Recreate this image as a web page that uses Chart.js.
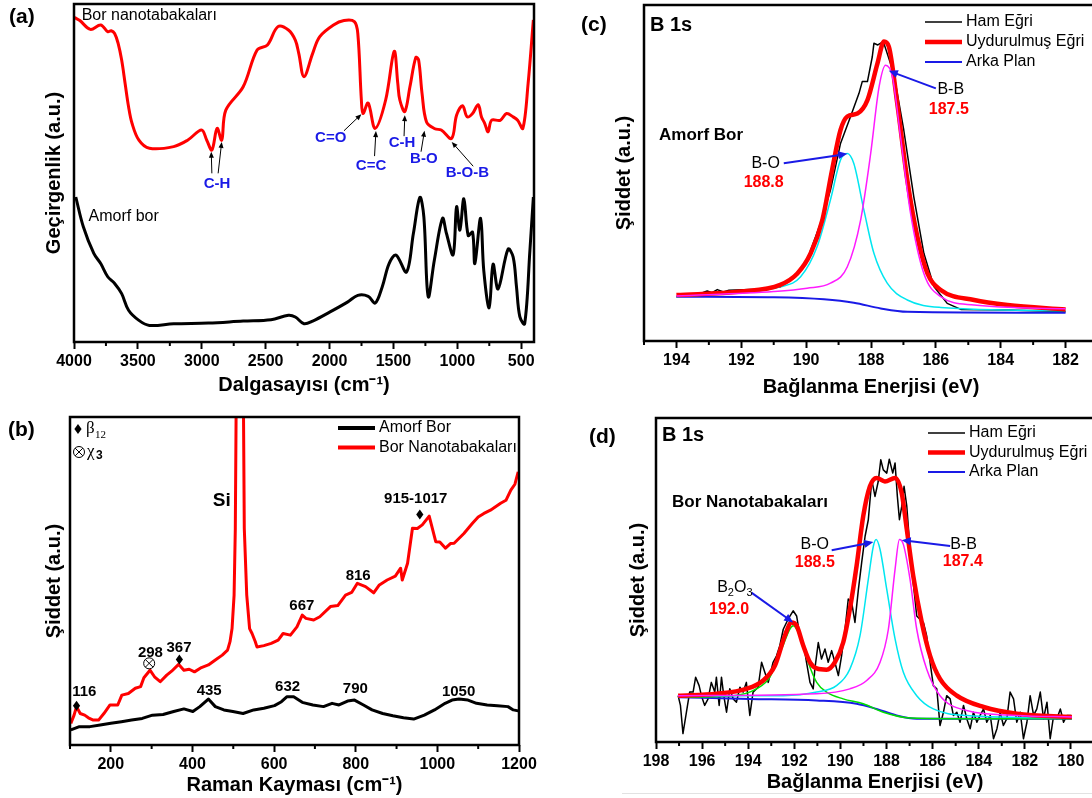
<!DOCTYPE html>
<html lang="tr">
<head>
<meta charset="UTF-8">
<title>Bor nanotabakaları – FTIR, Raman, XPS</title>
<script src="https://cdn.jsdelivr.net/npm/chart.js"></script>
<style>
  body { margin: 0; width: 1092px; height: 798px; overflow: hidden; background: #fff; position: relative; }
  canvas { position: absolute; }
  .tag { position: absolute; font: bold 21px "Liberation Sans", Arial, sans-serif; line-height: 21px; color: #000; }
</style>
</head>
<body>
<canvas id="cA" width="546" height="399" style="left:0;top:0"></canvas>
<canvas id="cB" width="546" height="399" style="left:0;top:399px"></canvas>
<canvas id="cC" width="560" height="399" style="left:546px;top:0"></canvas>
<canvas id="cD" width="560" height="399" style="left:546px;top:399px"></canvas>
<div class="tag" style="left:9px;top:5px">(a)</div>
<div class="tag" style="left:581px;top:13px">(c)</div>
<div class="tag" style="left:8px;top:418px">(b)</div>
<div class="tag" style="left:589px;top:425px">(d)</div>
<div style="position:absolute;left:622px;top:793px;width:470px;height:1px;background:#e2e2e2"></div>

<script>
// ---- (a) FTIR: [dalgasayısı, geçirgenlik a.u.] ----
const ftirNano = [[4000,96.0],[3986,95.8],[3954,95.1],[3872,92.5],[3791,93.8],[3736,91.8],[3709,92.1],[3682,91.3],[3655,88.4],[3627,83.4],[3600,76.5],[3573,69.6],[3546,64.7],[3492,59.7],[3410,57.3],[3220,57.8],[3111,59.7],[3002,62.7],[2961,59.7],[2921,56.8],[2880,63.2],[2844,59.7],[2812,68.6],[2676,75.5],[2567,86.4],[2486,87.9],[2404,93.3],[2322,92.3],[2268,89.3],[2241,85.4],[2200,78.5],[2132,85.4],[2078,90.3],[1969,93.8],[1887,95.1],[1806,94.8],[1779,91.3],[1751,71.6],[1738,67.6],[1698,70.7],[1643,63.2],[1561,71.6],[1494,86.0],[1466,76.5],[1450,71.6],[1411,68.2],[1371,75.5],[1325,84.2],[1303,83.4],[1276,73.5],[1241,65.1],[1176,63.1],[1126,62.7],[1045,60.2],[1006,67.1],[959,69.9],[923,66.6],[881,67.6],[837,70.2],[811,66.6],[786,64.7],[759,62.2],[732,65.6],[664,65.6],[615,67.6],[563,66.6],[528,65.6],[487,63.2],[446,76.5],[405,95.3]];
const ftirAmorf = [[3986,42.9],[3927,34.1],[3845,26.2],[3791,23.2],[3736,19.3],[3682,17.3],[3627,14.3],[3573,9.4],[3492,6.4],[3410,4.9],[3220,5.4],[2948,5.6],[2676,6.2],[2458,6.6],[2322,7.9],[2268,7.4],[2200,5.4],[2132,6.2],[1996,8.9],[1860,11.8],[1779,13.8],[1697,13.5],[1643,11.5],[1588,16.3],[1534,23.2],[1480,25.7],[1398,20.7],[1344,32.1],[1293,42.8],[1262,37.0],[1228,13.4],[1180,24.2],[1116,36.6],[1085,32.1],[1033,25.8],[1006,40.0],[980,33.1],[949,42.4],[915,31.5],[881,32.5],[863,23.2],[818,36.6],[793,21.1],[751,10.1],[720,23.0],[681,15.7],[603,27.5],[563,25.1],[537,16.3],[511,7.5],[473,5.4],[432,27.1],[405,42.9]];
const ftirTicks = [4000,3500,3000,2500,2000,1500,1000,500];
const ftirMinor = [3750,3250,2750,2250,1750,1250,750];
// [etiket, metin x, metin y, oklar [kuyruk x, kuyruk y, uç x, uç y]]
const ftirBands = [
  ['C-H', 2880, 46.9, [[2921,49.9,2926,56.3],[2872,49.9,2844,59.2]]],
  ['C=O', 1991, 60.4, [[1887,62.5,1751,67.4]]],
  ['C=C', 1675, 52.1, [[1648,55.0,1637,62.4]]],
  ['C-H', 1433, 58.9, [[1417,60.9,1411,67.1]]],
  ['B-O', 1262, 54.3, [[1284,56.3,1257,62.5]]],
  ['B-O-B', 922, 50.0, [[876,52.0,1044,59.2]]]
];

// ---- (b) Raman: [kayma, şiddet a.u.] ----
const ramanNano = [[102,6.6],[110,9.1],[116,11.7],[125,9.6],[136,9.1],[145,8.3],[157,7.6],[170,7.6],[183,9.6],[198,12.2],[217,12.2],[227,15.2],[243,15.7],[260,17.3],[273,17.8],[281,20.5],[296,22.8],[307,20.8],[321,19.3],[337,21.3],[349,22.5],[366,24.6],[379,22.8],[392,23.1],[405,22.3],[422,23.6],[439,24.4],[456,25.9],[473,27.4],[486,28.9],[492,31.5],[497,35.5],[502,45.7],[505,66.0],[508,120],[511,200],[521,200],[524,120],[527,66],[533,45.7],[540,35.5],[546,34.0],[554,31.5],[558,29.9],[575,30.3],[593,31.0],[610,32.0],[622,34.0],[640,33.5],[656,36.0],[669,39.6],[678,38.6],[697,38.1],[712,39.1],[738,42.2],[756,42.5],[775,45.7],[790,46.5],[804,49.3],[824,48.3],[844,46.4],[857,48.7],[877,50.3],[897,51.5],[910,53.9],[914,50.3],[927,55.4],[939,66.1],[951,66.0],[963,67.1],[980,69.8],[996,62.0],[1006,61.9],[1020,60.0],[1032,61.4],[1041,61.5],[1065,64.5],[1086,67.6],[1100,69.5],[1114,70.6],[1130,71.6],[1155,73.7],[1168,74.6],[1180,77.7],[1190,79.5],[1198,83.3]];
const ramanAmorf = [[102,4.6],[123,5.6],[149,5.6],[174,6.1],[200,6.6],[226,7.1],[251,7.6],[277,8.1],[302,9.1],[328,9.3],[354,10.2],[379,11.0],[401,10.2],[418,11.7],[439,14.0],[456,11.7],[477,10.7],[499,10.2],[524,9.6],[550,10.7],[575,11.2],[601,12.0],[618,13.2],[631,14.7],[648,14.7],[669,13.0],[695,12.2],[721,11.7],[742,12.7],[759,12.2],[780,13.4],[797,13.7],[819,12.2],[840,10.7],[866,9.6],[891,8.9],[917,8.3],[942,7.9],[968,9.1],[993,10.7],[1019,12.7],[1036,13.7],[1053,14.0],[1075,13.7],[1096,12.7],[1122,12.2],[1147,12.0],[1173,11.7],[1186,10.7],[1198,10.4]];
const ramanTicks = [200,400,600,800,1000,1200];
const ramanMinor = [100,300,500,700,900,1100];
const ramanPeaks = [['116',135,16.2],['298',297,28.2],['367',367,29.7],['435',441,16.4],['632',633,17.8],['667',668,42.4],['790',799,17.0],['816',806,51.5],['915-1017',947,74.9],['1050',1052,16.2]];
const ramanBeta = [[116,12.0],[368,26.1],[957,70.3]];
const ramanChi = [[294,24.9]];

// ---- (c) XPS amorf bor: [bağlanma enerjisi, şiddet a.u.] ----
const xpsAmorfRaw = [[194.0,13.2],[193.3,14.0],[193.05,14.9],[192.9,14.4],[192.74,15.3],[192.55,14.6],[192.38,15.1],[191.51,15.4],[190.8,16.1],[190.38,18.7],[189.97,24.1],[189.56,35.0],[189.25,44.9],[188.94,58.8],[188.63,66.8],[188.37,73.7],[188.27,77.2],[188.11,77.2],[187.96,84.6],[187.91,88.6],[187.79,88.1],[187.62,89.1],[187.3,79.7],[186.99,62.8],[186.68,42.9],[186.37,26.1],[186.06,16.2],[185.65,11.2],[185.23,9.4],[183.79,9.2],[182.0,8.7]];
const xpsAmorfFit = [[194.0,13.7],[192.02,14.7],[190.8,16.7],[190.27,20.1],[189.86,26.1],[189.5,36.0],[189.2,50.9],[188.94,62.8],[188.73,66.8],[188.42,67.7],[188.11,71.7],[187.8,82.6],[187.6,89.1],[187.45,87.6],[187.19,70.7],[186.88,47.9],[186.57,31.0],[186.26,20.1],[185.85,15.2],[184.82,12.2],[183.79,10.7],[182.0,9.4]];
const xpsAmorfBO = [[194.0,13.2],[192.02,14.4],[190.8,16.1],[190.17,19.1],[189.66,28.1],[189.25,42.0],[188.94,53.9],[188.73,55.8],[188.53,52.8],[188.22,39.0],[187.91,26.1],[187.5,17.2],[186.88,12.2],[185.85,10.0],[182.0,9.0]];
const xpsAmorfBB = [[194.0,13.4],[191.0,14.7],[189.97,15.7],[189.25,17.2],[188.73,22.1],[188.32,36.0],[188.01,55.8],[187.75,75.7],[187.55,82.1],[187.34,78.7],[187.09,60.8],[186.78,38.0],[186.37,20.1],[185.85,13.2],[184.82,10.7],[182.0,9.6]];
const xpsAmorfBg = [[194.0,13.2],[191.0,13.0],[189.45,12.4],[188.53,11.4],[187.7,9.7],[186.88,8.7],[182.0,8.4]];
const xpsAmorfTicks = [194,192,190,188,186,184,182];
const xpsAmorfMinor = [195,193,191,189,187,185,183,181];

// ---- (d) XPS bor nanotabakaları ----
const xpsNanoRaw = [[197.04,14.3],[196.94,11.3],[196.83,2.6],[196.68,9.2],[196.54,15.4],[196.39,15.4],[196.28,20.0],[196.13,17.4],[196.03,14.3],[195.89,11.3],[195.74,13.3],[195.6,18.4],[195.45,15.4],[195.38,20.0],[195.26,11.3],[195.16,20.0],[195.06,14.3],[194.94,9.2],[194.8,16.4],[194.65,13.3],[194.51,12.3],[194.36,16.9],[194.22,15.4],[194.08,18.4],[193.93,8.2],[193.79,15.4],[193.57,16.9],[193.42,24.6],[193.28,21.5],[193.13,18.4],[192.92,24.6],[192.77,26.6],[192.63,29.7],[192.48,34.8],[192.27,37.9],[192.05,40.5],[191.9,38.9],[191.76,32.8],[191.61,30.7],[191.47,24.6],[191.32,18.4],[191.18,16.4],[191.11,22.5],[190.96,30.7],[190.82,25.6],[190.67,28.7],[190.53,24.6],[190.38,28.2],[190.24,24.6],[190.09,20.5],[189.95,26.6],[189.8,34.8],[189.66,44.1],[189.51,43.0],[189.37,36.9],[189.22,47.1],[189.08,55.3],[188.93,63.5],[188.79,68.6],[188.64,80.9],[188.5,75.8],[188.36,80.4],[188.25,87.1],[188.14,84.0],[187.99,83.0],[187.88,87.3],[187.73,83.0],[187.63,86.1],[187.53,75.8],[187.44,68.6],[187.34,72.7],[187.24,78.9],[187.12,72.7],[186.98,59.4],[186.84,49.2],[186.69,38.9],[186.55,37.9],[186.4,36.9],[186.26,32.8],[186.11,24.6],[185.97,17.4],[185.82,16.4],[185.68,5.1],[185.53,9.2],[185.39,14.3],[185.24,13.3],[185.1,8.2],[184.95,9.2],[184.81,6.1],[184.66,11.3],[184.52,7.2],[184.37,4.1],[184.23,9.2],[184.08,6.1],[183.94,8.2],[183.79,10.2],[183.65,6.1],[183.5,8.2],[183.36,1.0],[183.21,4.1],[183.07,9.2],[182.93,5.1],[182.78,7.2],[182.64,15.4],[182.49,13.3],[182.35,6.1],[182.2,9.2],[182.06,1.0],[181.91,6.1],[181.77,14.3],[181.62,8.2],[181.48,10.2],[181.33,15.4],[181.19,7.2],[181.04,12.3],[180.9,1.0],[180.75,8.2],[180.61,7.2],[180.46,10.2],[180.32,6.1],[180.17,8.2],[180.0,8.2]];
const xpsNanoFit = [[197.04,14.3],[195.38,14.9],[194.08,16.4],[193.35,19.0],[192.84,23.6],[192.41,32.8],[192.12,36.9],[191.9,35.9],[191.61,29.7],[191.32,24.6],[191.03,22.7],[190.6,22.3],[190.24,24.6],[189.88,30.7],[189.59,41.0],[189.3,54.3],[189.01,69.7],[188.72,78.9],[188.43,81.5],[188.07,80.4],[187.63,81.5],[187.34,76.8],[187.12,65.6],[186.84,51.2],[186.47,36.9],[186.11,26.6],[185.68,19.5],[184.95,14.3],[183.79,10.8],[182.35,8.7],[179.96,7.7]];
const xpsNanoB2O3 = [[197.04,13.8],[194.65,14.3],[193.64,16.4],[193.06,20.0],[192.55,28.7],[192.05,35.9],[191.76,32.8],[191.4,24.6],[191.03,18.4],[190.6,15.4],[189.88,13.3],[189.01,11.8],[188.14,9.2],[186.98,7.4],[185.24,7.2],[179.96,7.2]];
const xpsNanoBO = [[197.04,14.3],[192.48,14.3],[191.03,15.4],[190.17,17.4],[189.59,22.5],[189.15,32.8],[188.79,50.2],[188.57,60.5],[188.45,62.5],[188.28,59.4],[187.99,47.1],[187.63,31.8],[187.27,21.5],[186.69,14.3],[185.97,10.2],[184.52,8.2],[179.96,7.4]];
const xpsNanoBB = [[197.04,14.3],[191.03,14.9],[189.59,16.4],[188.86,19.0],[188.28,24.6],[187.92,34.8],[187.63,53.3],[187.44,62.5],[187.27,61.0],[186.98,50.2],[186.69,34.8],[186.26,22.5],[185.68,14.3],[184.52,9.7],[182.35,8.2],[179.96,7.7]];
const xpsNanoBg = [[197.04,13.8],[193.93,13.3],[191.03,12.8],[189.3,11.8],[188.43,10.2],[187.56,8.2],[186.69,7.2],[179.96,7.2]];
const xpsNanoTicks = [198,196,194,192,190,188,186,184,182,180];
const xpsNanoMinor = [197,195,193,191,189,187,185,183,181,179];

const legendXps = [['Ham Eğri', '#000', 1.5], ['Uydurulmuş Eğri', '#ff0000', 4.5], ['Arka Plan', '#1a1ae6', 2]];
const legendRaman = [['Amorf Bor', '#000', 4], ['Bor Nanotabakaları', '#ff0000', 4]];

const FONT = '"Liberation Sans", Arial, sans-serif';
const SERIF = '"Liberation Serif", "Times New Roman", serif';
const BLUE = '#1a1ae6';

const line = (pts, color, w, smooth, order) => ({
  data: pts.map(([x, y]) => ({ x, y })),
  borderColor: color, borderWidth: w, pointRadius: 0, fill: false,
  tension: smooth ? 0.35 : 0, cubicInterpolationMode: smooth === 'm' ? 'monotone' : 'default',
  borderJoinStyle: 'round', order: order || 0
});

function txt(ctx, s, x, y, size, weight, color, align, family) {
  ctx.font = `${weight} ${size}px ${family || FONT}`;
  ctx.fillStyle = color; ctx.textAlign = align || 'center'; ctx.textBaseline = 'middle';
  ctx.fillText(s, x, y);
}

function arrow(ctx, x1, y1, x2, y2, color, lw, hl, hw) {
  const a = Math.atan2(y2 - y1, x2 - x1);
  ctx.strokeStyle = color; ctx.fillStyle = color; ctx.lineWidth = lw;
  ctx.beginPath(); ctx.moveTo(x1, y1);
  ctx.lineTo(x2 - Math.cos(a) * hl * 0.8, y2 - Math.sin(a) * hl * 0.8); ctx.stroke();
  ctx.beginPath(); ctx.moveTo(x2, y2);
  ctx.lineTo(x2 - hl * Math.cos(a) + hw * Math.sin(a), y2 - hl * Math.sin(a) - hw * Math.cos(a));
  ctx.lineTo(x2 - hl * Math.cos(a) - hw * Math.sin(a), y2 - hl * Math.sin(a) + hw * Math.cos(a));
  ctx.closePath(); ctx.fill();
}

function legendRows(ctx, a, rows, dx, dy, gap) {
  rows.forEach(([label, color, lw], i) => {
    const y = a.top + dy + i * gap;
    ctx.strokeStyle = color; ctx.lineWidth = lw;
    ctx.beginPath(); ctx.moveTo(a.left + dx, y); ctx.lineTo(a.left + dx + 37, y); ctx.stroke();
    txt(ctx, label, a.left + dx + 41, y, 16, 'normal', '#000', 'left');
  });
}

function diamond(ctx, x, y) {
  ctx.fillStyle = '#000';
  ctx.beginPath(); ctx.moveTo(x, y - 5); ctx.lineTo(x + 3.6, y); ctx.lineTo(x, y + 5); ctx.lineTo(x - 3.6, y);
  ctx.closePath(); ctx.fill();
}

function otimes(ctx, x, y) {
  const r = 5.5, d = r * 0.7;
  ctx.strokeStyle = '#000'; ctx.lineWidth = 1;
  ctx.beginPath(); ctx.arc(x, y, r, 0, Math.PI * 2); ctx.stroke();
  ctx.beginPath(); ctx.moveTo(x - d, y - d); ctx.lineTo(x + d, y + d);
  ctx.moveTo(x + d, y - d); ctx.lineTo(x - d, y + d); ctx.stroke();
}

// çerçeve ve ara çentikler
const frame = (minor) => ({
  id: 'frame',
  afterDatasetsDraw(chart) {
    const { ctx, chartArea: a, scales: { x } } = chart;
    ctx.save();
    ctx.strokeStyle = '#000'; ctx.lineWidth = 2.5;
    ctx.strokeRect(a.left, a.top, a.right - a.left, a.bottom - a.top);
    ctx.lineWidth = 2;
    minor.forEach(v => {
      const p = x.getPixelForValue(v);
      ctx.beginPath(); ctx.moveTo(p, a.bottom); ctx.lineTo(p, a.bottom + 4); ctx.stroke();
    });
    ctx.restore();
  }
});

function makePanel(id, cfg) {
  return new Chart(document.getElementById(id), {
    type: 'line',
    data: { datasets: cfg.datasets },
    options: {
      responsive: false, animation: false, devicePixelRatio: 1,
      layout: { padding: cfg.pad },
      plugins: { legend: { display: false }, tooltip: { enabled: false } },
      scales: {
        x: {
          type: 'linear', min: cfg.min, max: cfg.max, reverse: cfg.reverse,
          afterBuildTicks: s => { s.ticks = cfg.ticks.map(v => ({ value: v })); },
          afterFit: s => { s.height = cfg.xh; s.paddingLeft = 0; s.paddingRight = 0; },
          grid: { drawOnChartArea: false, tickLength: 7, tickWidth: 2, tickColor: '#000' },
          border: { display: false },
          ticks: { autoSkip: false, maxRotation: 0, padding: 3, color: '#000',
                   font: { family: FONT, size: 16, weight: 'bold' }, callback: v => String(v) },
          title: { display: true, text: cfg.xTitle, color: '#000', padding: 0,
                   font: { family: FONT, size: 20, weight: 'bold' } }
        },
        y: {
          min: 0, max: 100,
          afterFit: s => { s.width = cfg.yw; s.paddingTop = 0; s.paddingBottom = 0; },
          grid: { display: false }, border: { display: false }, ticks: { display: false },
          title: { display: true, text: cfg.yTitle, color: '#000', padding: 0,
                   font: { family: FONT, size: 20, weight: 'bold' } }
        }
      }
    },
    plugins: [frame(cfg.minor), { id: 'deco', afterDraw: cfg.deco }]
  });
}

// (a)
makePanel('cA', {
  pad: { left: 42, top: 4, right: 12, bottom: 2 }, yw: 32, xh: 55,
  min: 400, max: 4000, reverse: true, ticks: ftirTicks, minor: ftirMinor,
  xTitle: 'Dalgasayısı (cm⁻¹)', yTitle: 'Geçirgenlik (a.u.)',
  datasets: [line(ftirNano, '#ff0000', 3, true), line(ftirAmorf, '#000', 3, true)],
  deco(chart) {
    const { ctx, scales: { x, y } } = chart;
    ctx.save();
    txt(ctx, 'Bor nanotabakaları', x.getPixelForValue(3940), y.getPixelForValue(96.7), 16, 'normal', '#000', 'left');
    txt(ctx, 'Amorf bor', x.getPixelForValue(3886), y.getPixelForValue(37.2), 16, 'normal', '#000', 'left');
    ftirBands.forEach(([label, tx, ty, arrows]) => {
      arrows.forEach(([x1, y1, x2, y2]) =>
        arrow(ctx, x.getPixelForValue(x1), y.getPixelForValue(y1), x.getPixelForValue(x2), y.getPixelForValue(y2), '#000', 1, 6, 2.5));
      txt(ctx, label, x.getPixelForValue(tx), y.getPixelForValue(ty), 15, 'bold', BLUE);
    });
    ctx.restore();
  }
});

// (b)
makePanel('cB', {
  pad: { left: 42, top: 18, right: 27, bottom: 1 }, yw: 28, xh: 52,
  min: 100, max: 1200, reverse: false, ticks: ramanTicks, minor: ramanMinor,
  xTitle: 'Raman Kayması (cm⁻¹)', yTitle: 'Şiddet (a.u.)',
  datasets: [line(ramanAmorf, '#000', 3, false, 1), line(ramanNano, '#ff0000', 3, false, 0)],
  deco(chart) {
    const { ctx, chartArea: a, scales: { x, y } } = chart;
    ctx.save();
    ramanPeaks.forEach(([s, px, py]) => txt(ctx, s, x.getPixelForValue(px), y.getPixelForValue(py), 15, 'bold', '#000'));
    txt(ctx, 'Si', x.getPixelForValue(472), y.getPixelForValue(74.6), 19, 'bold', '#000');
    ramanBeta.forEach(([px, py]) => diamond(ctx, x.getPixelForValue(px), y.getPixelForValue(py)));
    ramanChi.forEach(([px, py]) => otimes(ctx, x.getPixelForValue(px), y.getPixelForValue(py)));
    // sembol açıklaması
    diamond(ctx, a.left + 8, a.top + 12);
    txt(ctx, 'β', a.left + 16, a.top + 12, 17, 'normal', '#000', 'left', SERIF);
    txt(ctx, '12', a.left + 25, a.top + 18, 11, 'normal', '#000', 'left', SERIF);
    otimes(ctx, a.left + 9, a.top + 35);
    txt(ctx, 'χ', a.left + 17, a.top + 35, 17, 'normal', '#000', 'left', SERIF);
    txt(ctx, '3', a.left + 26, a.top + 39, 12, 'bold', '#000', 'left');
    legendRows(ctx, a, legendRaman, 268, 11, 19.5);
    ctx.restore();
  }
});

// (c)
makePanel('cC', {
  pad: { left: 66, top: 5, right: 8, bottom: 0 }, yw: 32, xh: 58,
  min: 181, max: 195, reverse: true, ticks: xpsAmorfTicks, minor: xpsAmorfMinor,
  xTitle: 'Bağlanma Enerjisi (eV)', yTitle: 'Şiddet (a.u.)',
  datasets: [
    line(xpsAmorfRaw, '#000', 1.5, false, 5),
    line(xpsAmorfBg, BLUE, 2, 'm', 4),
    line(xpsAmorfBO, '#00e6f0', 1.5, 'm', 3),
    line(xpsAmorfBB, '#ff1aff', 1.5, 'm', 1),
    line(xpsAmorfFit, '#ff0000', 4.5, 'm', 2)
  ],
  deco(chart) {
    const { ctx, chartArea: a, scales: { x, y } } = chart;
    ctx.save();
    txt(ctx, 'B 1s', a.left + 6, a.top + 20, 20, 'bold', '#000', 'left');
    legendRows(ctx, a, legendXps, 281, 17, 20);
    txt(ctx, 'Amorf Bor', a.left + 15, a.top + 130, 17, 'bold', '#000', 'left');
    arrow(ctx, x.getPixelForValue(186.0), y.getPixelForValue(75.2), x.getPixelForValue(187.45), y.getPixelForValue(80.4), BLUE, 2, 9, 4);
    txt(ctx, 'B-B', x.getPixelForValue(185.54), y.getPixelForValue(74.9), 16, 'normal', '#000');
    txt(ctx, '187.5', x.getPixelForValue(185.6), y.getPixelForValue(68.8), 16, 'bold', '#ff0000');
    arrow(ctx, x.getPixelForValue(190.69), y.getPixelForValue(52.9), x.getPixelForValue(188.73), y.getPixelForValue(55.7), BLUE, 2, 9, 4);
    txt(ctx, 'B-O', x.getPixelForValue(191.25), y.getPixelForValue(52.9), 16, 'normal', '#000');
    txt(ctx, '188.8', x.getPixelForValue(191.31), y.getPixelForValue(47.1), 16, 'bold', '#ff0000');
    ctx.restore();
  }
});

// (d)
makePanel('cD', {
  pad: { left: 80, top: 19, right: 12, bottom: 4 }, yw: 30, xh: 52,
  min: 179, max: 198, reverse: true, ticks: xpsNanoTicks, minor: xpsNanoMinor,
  xTitle: 'Bağlanma Enerjisi (eV)', yTitle: 'Şiddet (a.u.)',
  datasets: [
    line(xpsNanoRaw, '#000', 1.5, false, 6),
    line(xpsNanoBg, BLUE, 2, 'm', 5),
    line(xpsNanoB2O3, '#00dd00', 1.5, 'm', 4),
    line(xpsNanoBO, '#00e6f0', 1.5, 'm', 3),
    line(xpsNanoBB, '#ff1aff', 1.5, 'm', 1),
    line(xpsNanoFit, '#ff0000', 4.5, 'm', 2)
  ],
  deco(chart) {
    const { ctx, chartArea: a, scales: { x, y } } = chart;
    ctx.save();
    txt(ctx, 'B 1s', a.left + 6, a.top + 17, 20, 'bold', '#000', 'left');
    legendRows(ctx, a, legendXps, 272, 15, 19.5);
    txt(ctx, 'Bor Nanotabakaları', a.left + 16, a.top + 84, 17, 'bold', '#000', 'left');
    arrow(ctx, x.getPixelForValue(190.38), y.getPixelForValue(59.2), x.getPixelForValue(188.57), y.getPixelForValue(61.7), BLUE, 2, 9, 4);
    txt(ctx, 'B-O', x.getPixelForValue(191.11), y.getPixelForValue(61.0), 16, 'normal', '#000');
    txt(ctx, '188.5', x.getPixelForValue(191.11), y.getPixelForValue(55.3), 16, 'bold', '#ff0000');
    arrow(ctx, x.getPixelForValue(185.24), y.getPixelForValue(60.5), x.getPixelForValue(187.34), y.getPixelForValue(62.3), BLUE, 2, 9, 4);
    txt(ctx, 'B-B', x.getPixelForValue(184.66), y.getPixelForValue(61.0), 16, 'normal', '#000');
    txt(ctx, '187.4', x.getPixelForValue(184.69), y.getPixelForValue(55.8), 16, 'bold', '#ff0000');
    arrow(ctx, x.getPixelForValue(193.86), y.getPixelForValue(46.1), x.getPixelForValue(192.05), y.getPixelForValue(36.9), BLUE, 2, 9, 4);
    // B2O3 alt simgeli
    const bx = x.getPixelForValue(194.58), by = y.getPixelForValue(47.6);
    ctx.font = `16px ${FONT}`; const wB = ctx.measureText('B').width, wO = ctx.measureText('O').width;
    ctx.font = `11px ${FONT}`; const w2 = ctx.measureText('2').width;
    let cx = bx - (wB + wO + 2 * w2) / 2;
    txt(ctx, 'B', cx, by, 16, 'normal', '#000', 'left'); cx += wB;
    txt(ctx, '2', cx, by + 5, 11, 'normal', '#000', 'left'); cx += w2;
    txt(ctx, 'O', cx, by, 16, 'normal', '#000', 'left'); cx += wO;
    txt(ctx, '3', cx, by + 5, 11, 'normal', '#000', 'left');
    txt(ctx, '192.0', x.getPixelForValue(194.83), y.getPixelForValue(41.0), 16, 'bold', '#ff0000');
    ctx.restore();
  }
});
</script>
</body>
</html>
